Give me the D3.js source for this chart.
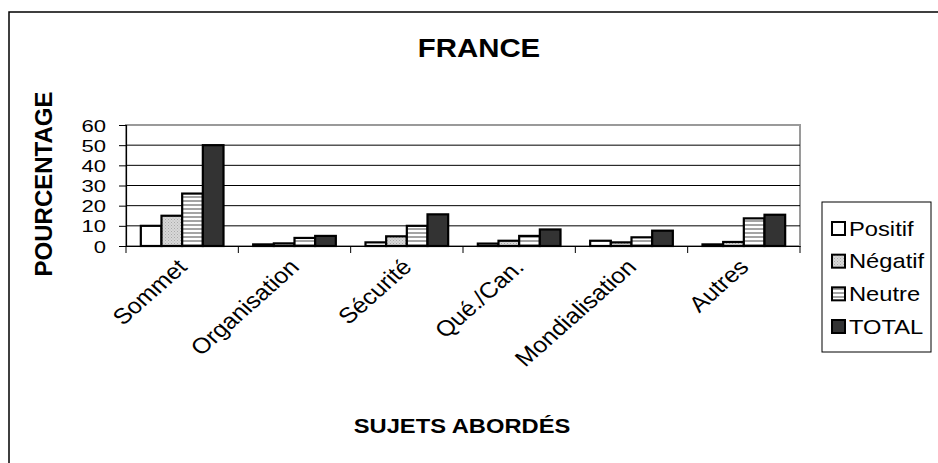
<!DOCTYPE html>
<html><head><meta charset="utf-8">
<script src="https://cdn.jsdelivr.net/npm/d3@7"></script>
<style>body{margin:0;background:#fff}svg{display:block}text{font-family:"Liberation Sans",Arial,sans-serif;fill:#000}</style>
</head><body><svg id="c" width="938" height="463"></svg>
<script>
const categories = ["Sommet","Organisation","Sécurité","Qué./Can.","Mondialisation","Autres"];
const seriesNames = ["Positif","Négatif","Neutre","TOTAL"];
const positif = [10, 0.8, 1.8, 1.2, 2.6, 0.8];
const negatif = [15, 1.3, 4.8, 2.6, 1.8, 2];
const neutre  = [26, 4, 10, 5, 4.3, 13.7];
const total   = [50, 5, 15.7, 8.2, 7.6, 15.5];
const yTicks = [0,10,20,30,40,50,60];
const title = "FRANCE", xTitle = "SUJETS ABORDÉS", yTitle = "POURCENTAGE";

const values = [positif, negatif, neutre, total];
const SX = 1.13; // horizontal stretch of the reference's lettering
const svg = d3.select("#c");
const defs = svg.append("defs");
const pn = defs.append("pattern").attr("id","pNeg").attr("patternUnits","userSpaceOnUse").attr("width",3).attr("height",3);
pn.append("rect").attr("width",3).attr("height",3).attr("fill","#d8d8d8");
pn.append("rect").attr("x",0).attr("y",0).attr("width",1).attr("height",1).attr("fill","#aaaaaa");
pn.append("rect").attr("x",1.5).attr("y",1.5).attr("width",1).attr("height",1).attr("fill","#b4b4b4");
const pu = defs.append("pattern").attr("id","pNeu").attr("patternUnits","userSpaceOnUse").attr("width",4).attr("height",4);
pu.append("rect").attr("width",4).attr("height",4).attr("fill","#ffffff");
pu.append("rect").attr("y",0).attr("width",4).attr("height",2).attr("fill","#a4a4a4");
const fills = ["#ffffff","url(#pNeg)","url(#pNeu)","#333333"];

svg.append("rect").attr("x",9).attr("y",12).attr("width",1000).attr("height",1000)
  .attr("fill","none").attr("stroke","#000").attr("stroke-width",1.5);

const L=126,R=800,T=125,B=246;
const x = d3.scaleBand().domain(categories).range([L,R]).padding(0);
const y = d3.scaleLinear().domain([0,60]).range([B,T]);
const gapFrac = 0.132;
const xs = d3.scaleBand().domain(seriesNames).range([x.bandwidth()*gapFrac, x.bandwidth()*(1-gapFrac)]).padding(0);

svg.append("rect").attr("x",L).attr("y",T).attr("width",R-L).attr("height",B-T)
  .attr("fill","none").attr("stroke","#9a9a9a").attr("stroke-width",2);
svg.append("g").selectAll("line").data(yTicks.filter(d=>d>0&&d<60)).join("line")
  .attr("x1",L).attr("x2",R).attr("y1",d=>y(d)).attr("y2",d=>y(d)).attr("stroke","#000").attr("stroke-width",1);

const g = svg.append("g");
seriesNames.forEach((s,si)=>{
  g.append("g").selectAll("rect").data(categories).join("rect")
    .attr("x",c=>x(c)+xs(s)).attr("width",xs.bandwidth())
    .attr("y",(c,i)=>y(values[si][i])).attr("height",(c,i)=>B-y(values[si][i]))
    .attr("fill",fills[si]).attr("stroke","#000").attr("stroke-width",2.2);
});

// y axis
const ya = svg.append("g").attr("transform",`translate(${L},0)`)
  .call(d3.axisLeft(y).tickValues(yTicks).tickSize(7).tickPadding(0).tickFormat(""));
ya.select(".domain").attr("stroke","#000").attr("stroke-width",1.2);
ya.selectAll(".tick line").attr("stroke","#000");
ya.selectAll(".tick").append("text").attr("text-anchor","end")
  .attr("transform",`translate(-20,0) scale(1.3,1)`).attr("dy","0.36em")
  .style("font-size","17px").text(d=>d);

// x axis
const xa = svg.append("g").attr("transform",`translate(0,${B})`)
  .call(d3.axisBottom(x).tickSize(0).tickFormat(""));
xa.select(".domain").attr("stroke","#000").attr("stroke-width",1.2);
const bounds = categories.map(c=>x(c)).concat([R]);
xa.selectAll(".bnd").data(bounds).join("line").attr("class","bnd")
  .attr("x1",d=>d).attr("x2",d=>d).attr("y1",0).attr("y2",7).attr("stroke","#000");
xa.selectAll(".lab").data(categories).join("text").attr("class","lab")
  .attr("transform",c=>`translate(${x(c)+x.bandwidth()/2},17) scale(${SX},1) rotate(-45)`)
  .attr("text-anchor","end").attr("dy","0.35em").style("font-size","22px").text(d=>d);

// titles
svg.append("text").attr("transform",`translate(479,57) scale(${SX},1)`).attr("text-anchor","middle")
  .style("font-size","26px").style("font-weight","bold").text(title);
svg.append("text").attr("transform",`translate(462,433) scale(${SX},1)`).attr("text-anchor","middle")
  .style("font-size","21px").style("font-weight","bold").text(xTitle);
svg.append("text").attr("transform","translate(52,184) rotate(-90)").attr("text-anchor","middle")
  .style("font-size","24px").style("font-weight","bold").text(yTitle);

// legend
const lg = svg.append("g");
lg.append("rect").attr("x",822).attr("y",202).attr("width",109).attr("height",150)
  .attr("fill","#fff").attr("stroke","#000").attr("stroke-width",1);
const ly = d3.scalePoint().domain(seriesNames).range([228,326]);
lg.selectAll(".sw").data(seriesNames).join("rect").attr("class","sw")
  .attr("x",832).attr("y",d=>ly(d)-6).attr("width",13).attr("height",13)
  .attr("fill",(d,i)=>fills[i]).attr("stroke","#000").attr("stroke-width",2);
lg.selectAll(".lt").data(seriesNames).join("text").attr("class","lt")
  .attr("transform",d=>`translate(849,${ly(d)}) scale(${SX},1)`).attr("dy","0.36em")
  .style("font-size","21px").text(d=>d);
</script></body></html>
